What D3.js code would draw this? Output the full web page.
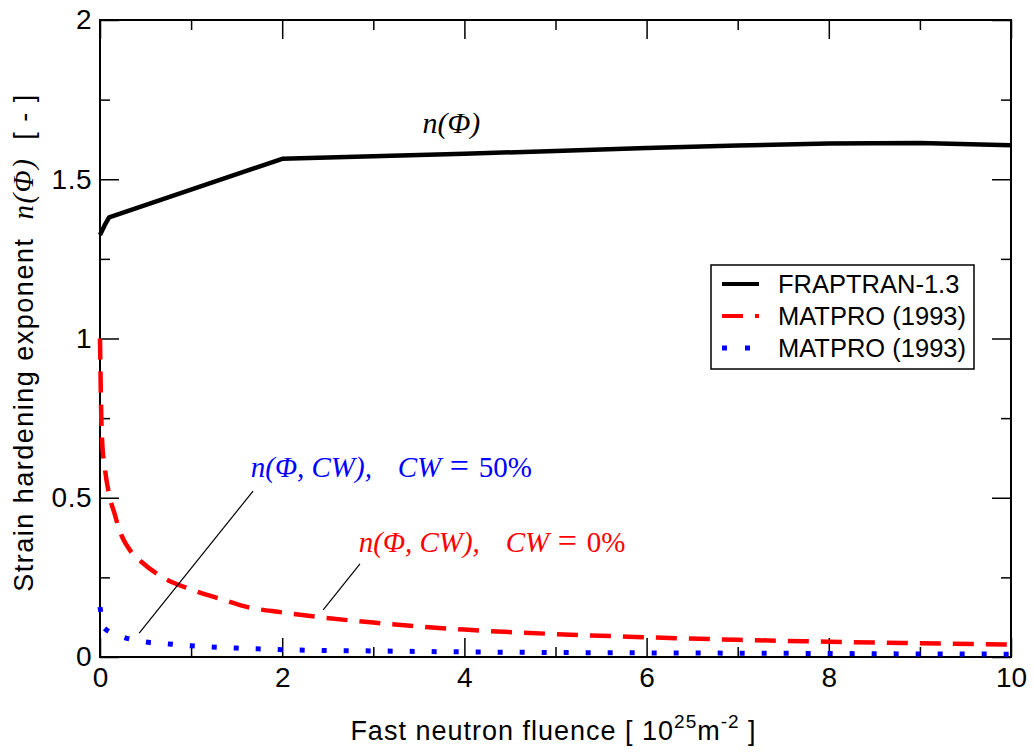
<!DOCTYPE html>
<html>
<head>
<meta charset="utf-8">
<script src="https://cdn.jsdelivr.net/npm/d3@7"></script>
<style>
  body { margin: 0; background: #fff; }
  svg text { font-family: "Liberation Sans", Arial, sans-serif; }
  .serif { font-family: "Liberation Serif", "Times New Roman", serif; }
</style>
</head>
<body>
<div id="chart"></div>
<script>
// FRAPTRAN-1.3 n(Phi)
var fraptranX = [0, 0.05, 0.1, 2, 3, 4, 5, 6, 7, 8, 9, 10];
var fraptranY = [1.325, 1.355, 1.38, 1.564, 1.572, 1.58, 1.589, 1.598, 1.606, 1.612, 1.614, 1.607];

// MATPRO (1993), CW = 0%
var matpro0X = [0, 0.005, 0.012, 0.025, 0.05, 0.1, 0.16, 0.2, 0.35, 0.45, 0.7, 1, 1.35, 1.6, 2, 3, 4, 5, 6, 7, 8, 9, 10];
var matpro0Y = [1.0, 0.9, 0.78, 0.67, 0.6, 0.51, 0.45, 0.41, 0.327, 0.30, 0.248, 0.212, 0.18, 0.158, 0.14, 0.108, 0.086, 0.072, 0.062, 0.054, 0.048, 0.043, 0.039];

// MATPRO (1993), CW = 50%
var matpro50X = [0, 0.05, 0.25, 0.5, 0.75, 1, 1.5, 2, 3, 4, 5, 6, 7, 8, 9, 10];
var matpro50Y = [0.157, 0.09, 0.063, 0.047, 0.041, 0.035, 0.028, 0.023, 0.019, 0.016, 0.014, 0.013, 0.012, 0.011, 0.0095, 0.009];

var xMajor = [0, 2, 4, 6, 8, 10];
var xMinor = [1, 3, 5, 7, 9];
var yMajor = [0, 0.5, 1, 1.5, 2];
var yMinor = [0.25, 0.75, 1.25, 1.75];
var yTickLabels = ['0', '0.5', '1', '1.5', '2'];

var legendNames = ['FRAPTRAN-1.3', 'MATPRO (1993)', 'MATPRO (1993)'];

var width = 1035, height = 756;
var margin = {left: 100, top: 20, right: 24, bottom: 99};
var w = width - margin.left - margin.right,
    h = height - margin.top - margin.bottom;

var svg = d3.select('#chart').append('svg')
    .attr('width', width)
    .attr('height', height);

var g = svg.append('g')
    .attr('transform', 'translate(' + margin.left + ',' + margin.top + ')');

var x = d3.scaleLinear().domain([0, 10]).range([0, w]);
var y = d3.scaleLinear().domain([0, 2]).range([h, 0]);

// ticks, all pointing inward, on all four sides
function tickAxis(axis, vals, size, label) {
  return axis.tickValues(vals).tickSize(-size).tickPadding(10)
    .tickFormat(label || '');
}

var bottomMaj = g.append('g').attr('transform', 'translate(0,' + h + ')')
  .call(tickAxis(d3.axisBottom(x), xMajor, 19, d3.format('d')));
g.append('g').attr('transform', 'translate(0,' + h + ')')
  .call(tickAxis(d3.axisBottom(x), xMinor, 10));
g.append('g').call(tickAxis(d3.axisTop(x), xMajor, 19));
g.append('g').call(tickAxis(d3.axisTop(x), xMinor, 10));

var leftMaj = g.append('g')
  .call(tickAxis(d3.axisLeft(y), yMajor, 19, function(d, i) { return yTickLabels[i]; }));
g.append('g').call(tickAxis(d3.axisLeft(y), yMinor, 10));
g.append('g').attr('transform', 'translate(' + w + ',0)')
  .call(tickAxis(d3.axisRight(y), yMajor, 19));
g.append('g').attr('transform', 'translate(' + w + ',0)')
  .call(tickAxis(d3.axisRight(y), yMinor, 10));

g.selectAll('.domain').remove();
g.selectAll('.tick line').attr('stroke', '#000').attr('stroke-width', 1.5);
g.selectAll('.tick text').attr('font-size', 28).attr('fill', '#000')
  .attr('font-family', '"Liberation Sans", Arial, sans-serif');
bottomMaj.selectAll('.tick text').attr('dy', '0.71em').attr('y', 10);
leftMaj.selectAll('.tick text').attr('x', -8).attr('letter-spacing', 0.5);

g.append('rect')
  .attr('width', w).attr('height', h)
  .attr('fill', 'none').attr('stroke', '#000').attr('stroke-width', 2);

// series
var line = d3.line()
  .x(function(d) { return x(d[0]); })
  .y(function(d) { return y(d[1]); })
  .curve(d3.curveMonotoneX);

function pairs(xs, ys) { return xs.map(function(v, i) { return [v, ys[i]]; }); }

g.append('path').datum(pairs(fraptranX, fraptranY))
  .attr('d', line.curve(d3.curveLinear))
  .attr('fill', 'none').attr('stroke', '#000').attr('stroke-width', 4.5)
  .attr('stroke-linejoin', 'round');

line.curve(d3.curveMonotoneX);

g.append('path').datum(pairs(matpro0X, matpro0Y))
  .attr('d', line)
  .attr('fill', 'none').attr('stroke', '#ff0000').attr('stroke-width', 4.5)
  .attr('stroke-dasharray', '21,12');

g.append('path').datum(pairs(matpro50X, matpro50Y))
  .attr('d', line)
  .attr('fill', 'none').attr('stroke', '#0000ff').attr('stroke-width', 5)
  .attr('stroke-dasharray', '5,17');

// legend
var lg = svg.append('g').attr('transform', 'translate(711,265)');
lg.append('rect').attr('width', 263).attr('height', 104)
  .attr('fill', '#fff').attr('stroke', '#000').attr('stroke-width', 1.5);
var legStyles = [
  {stroke: '#000', dash: null, sw: 4},
  {stroke: '#ff0000', dash: '21,12', sw: 4},
  {stroke: '#0000ff', dash: '5,18', sw: 5}
];
legendNames.forEach(function(name, i) {
  var yy = 19 + i * 32;
  lg.append('line').attr('x1', 11).attr('x2', 48).attr('y1', yy).attr('y2', yy)
    .attr('stroke', legStyles[i].stroke).attr('stroke-width', legStyles[i].sw)
    .attr('stroke-dasharray', legStyles[i].dash);
  lg.append('text').attr('x', 67).attr('y', yy + 9)
    .attr('font-size', 25.5).text(name);
});

// annotations
g.append('text').attr('class', 'serif')
  .attr('x', x(3.54)).attr('y', y(1.645))
  .attr('font-size', 30).attr('font-style', 'italic').text('n(Φ)');

function note(num, color, ax, ay) {
  var x0 = x(ax);
  var t = g.append('text').attr('class', 'serif')
    .attr('y', y(ay)).attr('font-size', 29).attr('fill', color);
  t.append('tspan').attr('x', x0).attr('font-style', 'italic').text('n(Φ, CW),');
  t.append('tspan').attr('x', x0 + 147).attr('font-style', 'italic').text('CW');
  t.append('tspan').attr('x', x0 + 199).attr('font-size', 34).text('=');
  t.append('tspan').attr('x', x0 + 228).text(num);
}
note('50%', '#0000ff', 1.655, 0.565);
note('0%', '#ff0000', 2.84, 0.33);

g.append('line')
  .attr('x1', x(1.68)).attr('y1', y(0.521)).attr('x2', x(0.43)).attr('y2', y(0.075))
  .attr('stroke', '#000').attr('stroke-width', 1.2);
g.append('line')
  .attr('x1', x(2.854)).attr('y1', y(0.292)).attr('x2', x(2.45)).attr('y2', y(0.148))
  .attr('stroke', '#000').attr('stroke-width', 1.2);

// axis titles
var xt = svg.append('text').attr('text-anchor', 'middle')
  .attr('x', margin.left + w / 2 - 2).attr('y', 740).attr('font-size', 27)
  .attr('letter-spacing', 1);
xt.append('tspan').text('Fast neutron fluence [ 10');
xt.append('tspan').attr('font-size', 19).attr('dy', -12).text('25');
xt.append('tspan').attr('dy', 12).text('m');
xt.append('tspan').attr('font-size', 19).attr('dy', -12).text('-2');
xt.append('tspan').attr('dy', 12).text(' ]');

var yt = svg.append('text').attr('text-anchor', 'middle')
  .attr('transform', 'translate(33,' + (margin.top + h / 2 + 4) + ') rotate(-90)')
  .attr('font-size', 27).attr('letter-spacing', 1.5).attr('xml:space', 'preserve');
yt.append('tspan').text('Strain hardening exponent  ');
yt.append('tspan').attr('class', 'serif').attr('font-style', 'italic').attr('font-size', 29).text('n(Φ)');
yt.append('tspan').text('  [ - ]');
</script>
</body>
</html>
